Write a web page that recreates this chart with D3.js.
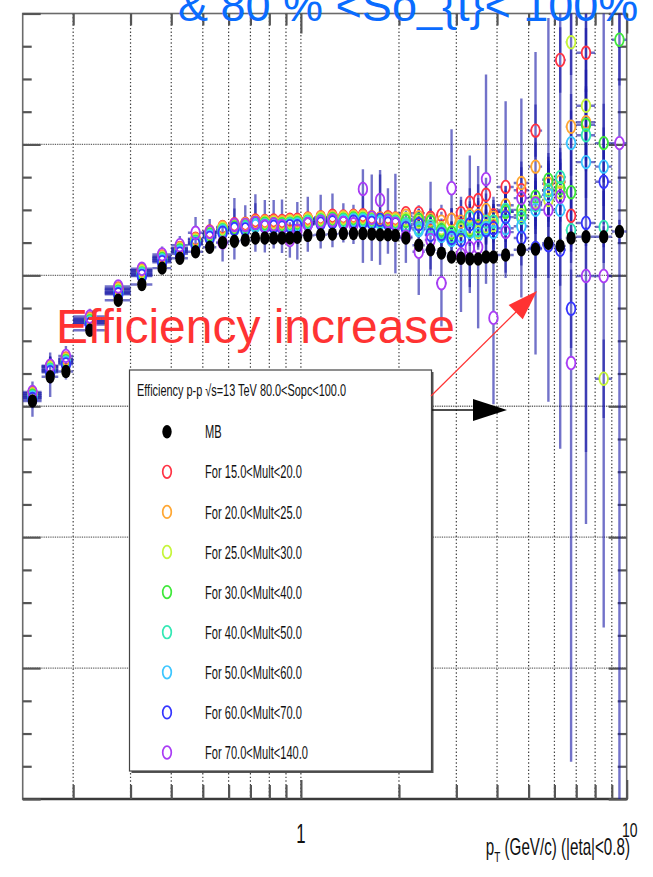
<!DOCTYPE html>
<html>
<head>
<meta charset="utf-8">
<script src="https://cdn.jsdelivr.net/npm/d3@7"></script>
<style>
  body { margin: 0; background: #fff; }
  svg { display: block; font-family: "Liberation Sans", Arial, Helvetica, sans-serif; }
</style>
</head>
<body>
<svg id="chart" width="653" height="877"></svg>
<script>
// pT bin edges (GeV/c), 48 bins
const ptEdges = [0.14,0.16,0.18,0.20,0.25,0.30,0.35,0.40,0.45,0.50,0.55,0.60,0.65,0.70,0.75,0.80,0.85,0.90,0.95,1.0,
  1.1,1.2,1.3,1.4,1.5,1.6,1.7,1.8,1.9,2.0,2.2,2.4,2.6,2.8,3.0,3.2,3.4,3.6,3.8,4.0,4.5,5.0,5.5,6.0,6.5,7.0,8.0,9.0,10.0];

// Minimum-bias efficiency
const effMB = [0.608,0.645,0.653,0.716,0.762,0.786,0.811,0.826,0.836,0.843,
  0.850,0.852,0.854,0.857,0.857,0.857,0.857,0.857,0.858,0.861,
  0.862,0.863,0.864,0.864,0.864,0.863,0.862,0.862,0.861,0.857,
  0.846,0.839,0.834,0.828,0.826,0.825,0.825,0.828,0.828,0.831,
  0.839,0.840,0.849,0.845,0.857,0.859,0.859,0.867];
const errMB = [0.024,0.031,0.012,0.010,0.008,0.007,0.006,0.005,0.005,0.005,
  0.004,0.004,0.004,0.004,0.004,0.004,0.004,0.004,0.004,0.004,
  0.004,0.004,0.004,0.004,0.005,0.005,0.005,0.005,0.005,0.005,
  0.006,0.006,0.006,0.007,0.007,0.007,0.008,0.008,0.008,0.008,
  0.009,0.010,0.011,0.012,0.013,0.014,0.016,0.018];

// 15 < Mult < 20
const effMult15 = [0.620,0.661,0.673,0.734,0.780,0.808,0.829,0.842,0.856,0.867,
  0.874,0.878,0.879,0.884,0.883,0.884,0.883,0.885,0.885,0.887,
  0.889,0.891,0.890,0.891,0.892,0.889,0.887,0.889,0.887,0.895,
  0.895,0.888,0.892,0.885,0.895,0.911,0.915,0.923,0.892,0.935,
  0.930,1.021,0.930,1.129,0.891,1.140,null,null];
const errMult15 = [0.012,0.015,0.010,0.008,0.007,0.006,0.006,0.006,0.006,0.006,
  0.006,0.006,0.006,0.006,0.006,0.006,0.006,0.006,0.006,0.006,
  0.007,0.007,0.007,0.007,0.007,0.007,0.007,0.007,0.007,0.010,
  0.012,0.014,0.016,0.018,0.020,0.022,0.024,0.026,0.028,0.131,
  0.035,0.040,0.045,0.050,0.055,0.060,null,null];

// 20 < Mult < 25
const effMult20 = [0.619,0.660,0.672,0.733,0.779,0.807,0.828,0.841,0.855,0.865,
  0.873,0.876,0.878,0.882,0.882,0.882,0.881,0.883,0.883,0.886,
  0.888,0.889,0.889,0.890,0.890,0.888,0.886,0.887,0.886,0.891,
  0.889,0.885,0.882,0.885,0.882,0.892,0.891,0.900,0.888,0.907,
  0.941,0.966,0.940,0.943,1.027,1.034,null,null];
const errMult20 = [0.012,0.015,0.010,0.008,0.007,0.006,0.006,0.006,0.006,0.006,
  0.006,0.006,0.006,0.006,0.006,0.006,0.006,0.006,0.006,0.007,
  0.007,0.007,0.007,0.007,0.007,0.008,0.008,0.008,0.008,0.010,
  0.012,0.013,0.015,0.017,0.019,0.021,0.023,0.025,0.027,0.030,
  0.033,0.037,0.041,0.045,0.050,0.055,null,null];

// 25 < Mult < 30
const effMult25 = [0.617,0.658,0.670,0.731,0.777,0.805,0.826,0.839,0.853,0.863,
  0.871,0.874,0.876,0.880,0.880,0.880,0.879,0.881,0.881,0.884,
  0.886,0.887,0.887,0.888,0.888,0.886,0.884,0.885,0.884,0.886,
  0.882,0.875,0.872,0.866,0.869,0.872,0.866,0.875,0.877,0.897,
  0.892,0.912,0.915,0.927,1.156,1.059,0.642,null];
const errMult25 = [0.012,0.015,0.010,0.008,0.007,0.006,0.006,0.006,0.006,0.006,
  0.006,0.006,0.006,0.006,0.006,0.006,0.006,0.006,0.006,0.007,
  0.007,0.007,0.007,0.007,0.007,0.008,0.008,0.008,0.008,0.010,
  0.012,0.013,0.015,0.017,0.019,0.021,0.023,0.025,0.027,0.030,
  0.033,0.037,0.041,0.045,0.050,0.055,0.060,null];

// 30 < Mult < 40
const effMult30 = [0.616,0.656,0.669,0.730,0.775,0.803,0.825,0.838,0.851,0.862,
  0.869,0.873,0.874,0.878,0.879,0.878,0.878,0.879,0.880,0.882,
  0.884,0.886,0.885,0.887,0.886,0.884,0.883,0.884,0.882,0.883,
  0.885,0.882,0.869,0.865,0.872,0.869,0.875,0.872,0.882,0.897,
  0.900,0.920,0.946,0.933,0.927,1.030,1.002,1.160];
const errMult30 = [0.012,0.015,0.010,0.008,0.007,0.006,0.006,0.006,0.006,0.006,
  0.006,0.006,0.006,0.006,0.006,0.006,0.006,0.006,0.006,0.007,
  0.007,0.007,0.007,0.007,0.007,0.008,0.008,0.008,0.008,0.010,
  0.012,0.013,0.015,0.017,0.019,0.021,0.023,0.025,0.027,0.030,
  0.033,0.037,0.041,0.045,0.050,0.055,0.060,0.070];

// 40 < Mult < 50
const effMult40 = [0.614,0.655,0.667,0.728,0.774,0.802,0.823,0.836,0.850,0.860,
  0.868,0.871,0.873,0.877,0.877,0.877,0.876,0.878,0.878,0.881,
  0.883,0.884,0.884,0.885,0.885,0.883,0.881,0.882,0.881,0.878,
  0.872,0.875,0.866,0.860,0.875,0.888,0.869,0.882,0.882,0.900,
  0.888,0.907,0.930,0.950,0.869,1.014,0.874,null];
const errMult40 = [0.012,0.015,0.010,0.008,0.007,0.006,0.006,0.006,0.006,0.006,
  0.006,0.006,0.006,0.006,0.006,0.006,0.006,0.006,0.006,0.007,
  0.007,0.007,0.007,0.007,0.007,0.008,0.008,0.008,0.008,0.010,
  0.012,0.013,0.015,0.017,0.019,0.021,0.023,0.025,0.027,0.030,
  0.033,0.037,0.041,0.045,0.050,0.055,0.055,null];

// 50 < Mult < 60
const effMult50 = [0.613,0.653,0.666,0.727,0.772,0.800,0.822,0.835,0.848,0.859,
  0.866,0.870,0.871,0.875,0.876,0.875,0.875,0.876,0.877,0.879,
  0.881,0.883,0.882,0.884,0.883,0.882,0.880,0.881,0.879,0.875,
  0.869,0.871,0.860,0.854,0.860,0.866,0.862,0.872,0.866,0.872,
  0.875,0.900,0.923,0.900,1.002,0.973,0.966,null];
const errMult50 = [0.012,0.015,0.010,0.008,0.007,0.006,0.006,0.006,0.006,0.006,
  0.006,0.006,0.006,0.006,0.006,0.006,0.006,0.006,0.006,0.007,
  0.007,0.007,0.007,0.007,0.007,0.008,0.008,0.008,0.008,0.010,
  0.012,0.072,0.015,0.017,0.019,0.021,0.023,0.025,0.027,0.030,
  0.033,0.037,0.041,0.045,0.050,0.055,0.060,null];

// 60 < Mult < 70
const effMult60 = [0.611,0.652,0.664,0.725,0.771,0.799,0.820,0.833,0.847,0.857,
  0.865,0.871,0.870,0.880,0.874,0.874,0.873,0.875,0.875,0.878,
  0.879,0.881,0.880,0.882,0.881,0.880,0.885,0.879,0.878,0.872,
  0.878,0.862,0.863,0.857,0.854,0.878,0.888,0.869,0.872,0.889,
  0.857,0.842,0.846,0.839,0.749,0.880,0.943,null];
const errMult60 = [0.014,0.018,0.012,0.010,0.009,0.008,0.008,0.008,0.008,0.009,
  0.010,0.047,0.012,0.044,0.012,0.012,0.012,0.012,0.012,0.013,
  0.013,0.013,0.013,0.013,0.062,0.014,0.069,0.014,0.015,0.016,
  0.018,0.020,0.022,0.024,0.026,0.105,0.030,0.032,0.034,0.038,
  0.042,0.046,0.050,0.055,0.060,0.350,0.065,null];

// 70 < Mult < 140
const effMult70 = [0.622,0.662,0.677,0.737,0.783,0.810,0.832,0.846,0.865,0.866,
  0.850,0.877,0.877,0.880,0.875,0.878,0.875,0.854,0.868,0.878,
  0.882,0.884,0.880,0.878,0.932,0.888,0.915,0.883,0.879,0.859,
  0.836,0.854,0.788,0.933,0.832,0.842,0.843,0.947,0.735,0.866,
  0.918,0.910,0.900,0.920,0.666,0.799,0.799,1.002];
const errMult70 = [0.016,0.020,0.015,0.012,0.010,0.010,0.012,0.014,0.024,0.020,
  0.029,0.025,0.030,0.030,0.040,0.037,0.041,0.027,0.044,0.042,
  0.041,0.041,0.030,0.030,0.030,0.066,0.046,0.050,0.076,0.040,
  0.066,0.045,0.066,0.090,0.088,0.060,0.124,0.160,0.132,0.070,
  0.152,0.231,0.293,0.385,0.609,0.379,0.537,1.100];

const multLabels = ["For 15.0<Mult<20.0","For 20.0<Mult<25.0","For 25.0<Mult<30.0","For 30.0<Mult<40.0",
  "For 40.0<Mult<50.0","For 50.0<Mult<60.0","For 60.0<Mult<70.0","For 70.0<Mult<140.0"];
const multColors = ["#ff3344","#ffa733","#c6f53a","#3fe83a","#33e8b4","#3cc6ff","#3535ff","#a93cf5"];

// axis tick values
const xMajorTicks = [1, 10];
const xMinorTicks = [0.2,0.3,0.4,0.5,0.6,0.7,0.8,0.9,2,3,4,5,6,7,8,9];
const yMajorTicks = [0,0.2,0.4,0.6,0.8,1.0,1.2];
const yMinorTicks = [0.05,0.1,0.15,0.25,0.3,0.35,0.45,0.5,0.55,0.65,0.7,0.75,0.85,0.9,0.95,1.05,1.1,1.15];
const yGridValues = [0.2,0.4,0.6,0.8,1.0];

// ---------------------------------------------------------------
const frame = { left: 22.7, right: 626.7, top: 13.5, bottom: 799 };
const x = d3.scaleLog().domain([0.14, 10]).range([frame.left, frame.right]);
const y = d3.scaleLinear().domain([0, 1.2]).range([frame.bottom, frame.top]);

const binCenters = ptEdges.slice(0, -1).map((lo, i) => (lo + ptEdges[i + 1]) / 2);

const series = [
  { label: "MB", color: "#000", eff: effMB, err: errMB, filled: true },
  { label: multLabels[0], color: multColors[0], eff: effMult15, err: errMult15 },
  { label: multLabels[1], color: multColors[1], eff: effMult20, err: errMult20 },
  { label: multLabels[2], color: multColors[2], eff: effMult25, err: errMult25 },
  { label: multLabels[3], color: multColors[3], eff: effMult30, err: errMult30 },
  { label: multLabels[4], color: multColors[4], eff: effMult40, err: errMult40 },
  { label: multLabels[5], color: multColors[5], eff: effMult50, err: errMult50 },
  { label: multLabels[6], color: multColors[6], eff: effMult60, err: errMult60 },
  { label: multLabels[7], color: multColors[7], eff: effMult70, err: errMult70 }
];

const svg = d3.select("#chart");
svg.append("rect").attr("width", 653).attr("height", 877).attr("fill", "#fff");

svg.append("defs").append("clipPath").attr("id", "plotClip")
  .append("rect")
  .attr("x", frame.left).attr("y", frame.top)
  .attr("width", frame.right - frame.left).attr("height", frame.bottom - frame.top);

// grid
const grid = svg.append("g");
grid.selectAll("line.vg").data(xMinorTicks.concat([1])).join("line")
  .attr("x1", d => x(d)).attr("x2", d => x(d))
  .attr("y1", frame.top).attr("y2", frame.bottom)
  .attr("stroke", "#444").attr("stroke-width", 1.2).attr("stroke-dasharray", "1.4,2.2");
grid.selectAll("line.hg").data(yGridValues).join("line")
  .attr("x1", frame.left).attr("x2", frame.right)
  .attr("y1", d => y(d)).attr("y2", d => y(d))
  .attr("stroke", "#555").attr("stroke-width", 1.4).attr("stroke-dasharray", "0.9,0.9");

// frame
svg.append("rect")
  .attr("x", frame.left).attr("y", frame.top)
  .attr("width", frame.right - frame.left).attr("height", frame.bottom - frame.top)
  .attr("fill", "none").attr("stroke", "#6a6a6a").attr("stroke-width", 1.6);
svg.append("line")
  .attr("x1", frame.left).attr("x2", frame.right + 1)
  .attr("y1", frame.bottom).attr("y2", frame.bottom)
  .attr("stroke", "#3a3a3a").attr("stroke-width", 2.4);

// ticks on all four sides
function tickGroup(axis, transform) {
  const g = svg.append("g").attr("transform", transform).call(axis);
  g.select(".domain").remove();
  g.selectAll("text").remove();
  g.selectAll("line").attr("stroke", "#555").attr("stroke-width", 2.2);
}
tickGroup(d3.axisBottom(x).tickValues(xMinorTicks).tickSize(-14), `translate(0,${frame.bottom})`);
tickGroup(d3.axisBottom(x).tickValues(xMajorTicks).tickSize(-19), `translate(0,${frame.bottom})`);
tickGroup(d3.axisTop(x).tickValues(xMinorTicks).tickSize(-12), `translate(0,${frame.top})`);
tickGroup(d3.axisTop(x).tickValues(xMajorTicks).tickSize(-20), `translate(0,${frame.top})`);
tickGroup(d3.axisLeft(y).tickValues(yMajorTicks).tickSize(-18), `translate(${frame.left},0)`);
tickGroup(d3.axisLeft(y).tickValues(yMinorTicks).tickSize(-9), `translate(${frame.left},0)`);
tickGroup(d3.axisRight(y).tickValues(yMajorTicks).tickSize(-18), `translate(${frame.right},0)`);
tickGroup(d3.axisRight(y).tickValues(yMinorTicks).tickSize(-9), `translate(${frame.right},0)`);

// ---------------------------------------------------------------
// error bars (kept outside the marker, as ROOT draws them)
const ring = { rx: 4.3, ry: 6.3 };
const dot = { rx: 4.7, ry: 6.7 };
const plot = svg.append("g").attr("clip-path", "url(#plotClip)");

const segments = [];
series.forEach(s => {
  const m = s.filled ? dot : ring;
  s.eff.forEach((v, i) => {
    if (v == null) return;
    const cx = x(binCenters[i]), cy = y(v);
    const xl = x(ptEdges[i]), xr = x(ptEdges[i + 1]);
    const e = s.err[i] || 0;
    const yt = y(v + e), yb = y(v - e);
    if (cx - m.rx > xl) segments.push([xl, cy, cx - m.rx, cy]);
    if (xr > cx + m.rx) segments.push([cx + m.rx, cy, xr, cy]);
    if (cy - m.ry > yt) segments.push([cx, yt, cx, cy - m.ry]);
    if (yb > cy + m.ry) segments.push([cx, cy + m.ry, cx, yb]);
  });
});
plot.append("g").selectAll("line").data(segments).join("line")
  .attr("x1", d => d[0]).attr("y1", d => d[1])
  .attr("x2", d => d[2]).attr("y2", d => d[3])
  .attr("stroke", "#1c1ca8").attr("stroke-opacity", 0.62).attr("stroke-width", 2.4);

// markers: multiplicity classes first, MB on top
series.slice(1).forEach(s => {
  plot.append("g").selectAll("ellipse")
    .data(s.eff.map((v, i) => ({ v, i })).filter(d => d.v != null))
    .join("ellipse")
    .attr("cx", d => x(binCenters[d.i])).attr("cy", d => y(d.v))
    .attr("rx", ring.rx).attr("ry", ring.ry)
    .attr("fill", "none").attr("stroke", s.color).attr("stroke-width", 1.8);
});
plot.append("g").selectAll("ellipse")
  .data(effMB.map((v, i) => ({ v, i })))
  .join("ellipse")
  .attr("cx", d => x(binCenters[d.i])).attr("cy", d => y(d.v))
  .attr("rx", dot.rx).attr("ry", dot.ry).attr("fill", "#000");

// ---------------------------------------------------------------
// axis labels (narrow ROOT-style text)
function narrowText(parent, px, py, str, size, sx, anchor) {
  return parent.append("text")
    .attr("transform", `translate(${px},${py}) scale(${sx},1)`)
    .attr("font-size", size).attr("text-anchor", anchor || "start")
    .attr("fill", "#111").text(str);
}
narrowText(svg, x(1), 843, "1", 28, 0.6, "middle");
narrowText(svg, x(10) + 3, 837, "10", 20, 0.7, "middle");

const xt = svg.append("text")
  .attr("transform", "translate(630,855) scale(0.66,1)")
  .attr("font-size", 23).attr("text-anchor", "end").attr("fill", "#111");
xt.append("tspan").text("p");
xt.append("tspan").attr("font-size", 15).attr("dy", 7).text("T");
xt.append("tspan").attr("dy", -7).text(" (GeV/c) (|eta|<0.8)");

// ---------------------------------------------------------------
// legend
const leg = { x: 129.5, y: 370, w: 302, h: 401 };
svg.append("rect").attr("x", leg.x + 2).attr("y", leg.y + 2).attr("width", leg.w).attr("height", leg.h)
  .attr("fill", "#555");
svg.append("rect").attr("x", leg.x).attr("y", leg.y).attr("width", leg.w).attr("height", leg.h)
  .attr("fill", "#fff").attr("stroke", "#444").attr("stroke-width", 1.2);

svg.append("text")
  .attr("x", 137).attr("y", 396)
  .attr("font-size", 16.5).attr("fill", "#111")
  .attr("textLength", 209).attr("lengthAdjust", "spacingAndGlyphs")
  .text("Efficiency p-p \u221As=13 TeV 80.0<Sopc<100.0");

series.forEach((s, i) => {
  const base = 438.3 + 40.1 * i;
  const cy = base - 6.6;
  if (s.filled) {
    svg.append("ellipse").attr("cx", 167).attr("cy", cy).attr("rx", dot.rx).attr("ry", dot.ry).attr("fill", "#000");
  } else {
    svg.append("ellipse").attr("cx", 167).attr("cy", cy).attr("rx", ring.rx).attr("ry", ring.ry)
      .attr("fill", "none").attr("stroke", s.color).attr("stroke-width", 1.7);
  }
  narrowText(svg, 205, base, s.label, 18.5, 0.6, "start");
});

// ---------------------------------------------------------------
// annotations
svg.append("text")
  .attr("x", 178).attr("y", 21)
  .attr("font-size", 45).attr("fill", "#0a6cff")
  .text("& 80 % <So_{t}< 100%");

svg.append("text")
  .attr("x", 56).attr("y", 343)
  .attr("font-size", 48).attr("fill", "#ff3333")
  .attr("textLength", 399).attr("lengthAdjust", "spacingAndGlyphs")
  .text("Efficiency increase");

// red arrow
const rA = { x1: 431, y1: 396, x2: 537, y2: 291 };
svg.append("line").attr("x1", rA.x1).attr("y1", rA.y1).attr("x2", rA.x2 - 18).attr("y2", rA.y2 + 18)
  .attr("stroke", "#ff3333").attr("stroke-width", 1.2);
{
  const dx = rA.x2 - rA.x1, dy = rA.y2 - rA.y1, L = Math.hypot(dx, dy);
  const ux = dx / L, uy = dy / L, px = -uy, py = ux;
  const bx = rA.x2 - 30 * ux, by = rA.y2 - 30 * uy;
  svg.append("polygon")
    .attr("points", `${rA.x2},${rA.y2} ${bx + 10 * px},${by + 10 * py} ${bx - 10 * px},${by - 10 * py}`)
    .attr("fill", "#ff3333");
}

// black arrow
svg.append("line").attr("x1", 432).attr("y1", 410).attr("x2", 475).attr("y2", 410)
  .attr("stroke", "#111").attr("stroke-width", 1.3);
svg.append("polygon").attr("points", "473,399 473,421 507,410").attr("fill", "#000");
</script>
</body>
</html>
